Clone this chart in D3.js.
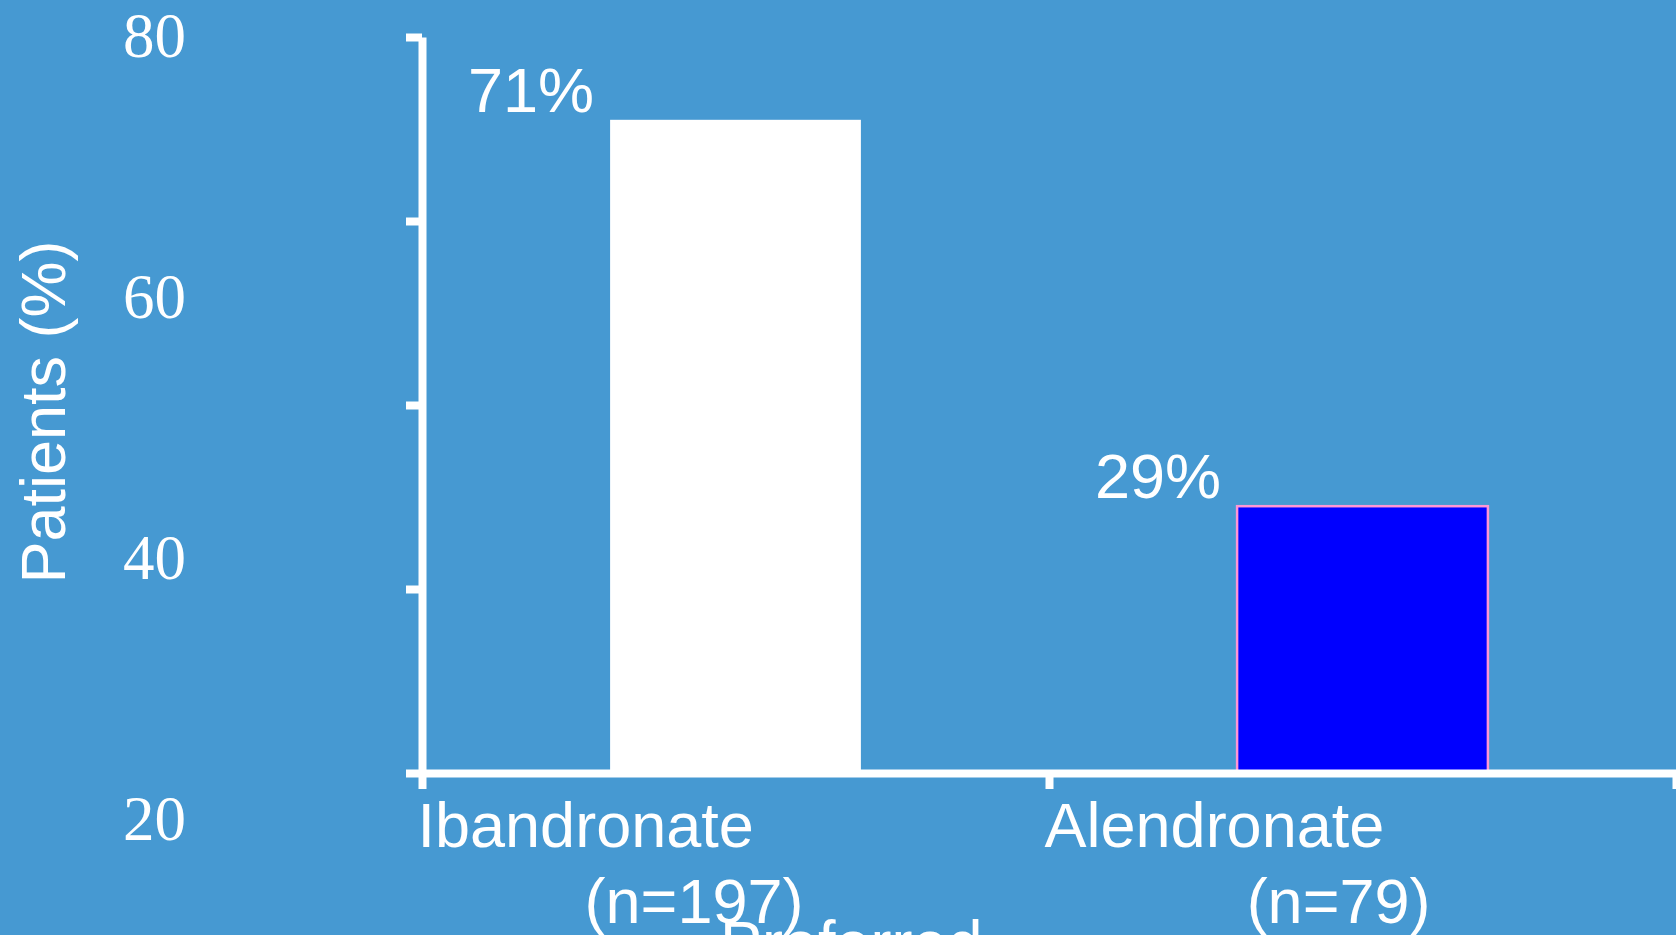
<!DOCTYPE html>
<html>
<head>
<meta charset="utf-8">
<script src="https://cdn.jsdelivr.net/npm/d3@7"></script>
<style>
  html, body { margin: 0; padding: 0; background: #4699D2; overflow: hidden; }
  svg { display: block; }
</style>
</head>
<body>
<svg id="chart" width="1676" height="935"></svg>
<script>
// Patient preference data
const categories = ["Ibandronate", "Alendronate"];
const sampleSizes = ["(n=197)", "(n=79)"];
const values = [71, 29];
const valueLabels = ["71%", "29%"];
const barFills = ["#FFFFFF", "#0000FF"];
const barStrokes = ["none", "#FF96D4"];
const axisTicks = [0, 20, 40, 60, 80];
const tickLabels = [80, 60, 40, 20];
const yTitle = "Patients (%)";
const xTitle = "Preferred";

const svg = d3.select("#chart");
const white = "#FFFFFF";
const sans = "'Liberation Sans', Arial, sans-serif";
const serif = "'Liberation Serif', 'Times New Roman', serif";

const axisX = 422, baseY = 773, topY = 37, rightX = 1676;

const y = d3.scaleLinear().domain([0, 80]).range([baseY, topY]);
const x = d3.scaleBand().domain(categories).range([axisX, rightX])
  .paddingInner(0.6).paddingOuter(0.3);
const xEdge = d3.scaleLinear().domain([0, categories.length]).range([axisX, rightX]);
// tick label column sits on its own scale, offset from the tick marks
const yLabel = d3.scaleLinear().domain([20, 80]).range([840, 57]);

// bars
svg.append("g").selectAll("rect")
  .data(values)
  .join("rect")
  .attr("x", (d, i) => x(categories[i]))
  .attr("y", d => y(d))
  .attr("width", x.bandwidth())
  .attr("height", d => y(0) - y(d))
  .attr("fill", (d, i) => barFills[i])
  .attr("stroke", (d, i) => barStrokes[i])
  .attr("stroke-width", 2.5);

// value labels
svg.append("g").selectAll("text")
  .data(values)
  .join("text")
  .attr("x", (d, i) => x(categories[i]) - 16)
  .attr("y", d => y(d) - 8)
  .attr("text-anchor", "end")
  .attr("font-family", sans)
  .attr("font-size", 63)
  .attr("fill", white)
  .text((d, i) => valueLabels[i]);

// y axis
const yAxis = svg.append("g")
  .attr("transform", `translate(${axisX},0)`)
  .call(d3.axisLeft(y).tickValues(axisTicks).tickSize(16).tickSizeOuter(0).tickFormat(""));
yAxis.selectAll("path, line").attr("stroke", white).attr("stroke-width", 8);

// x axis
const xAxis = svg.append("g")
  .attr("transform", `translate(0,${baseY})`)
  .call(d3.axisBottom(xEdge).tickValues(d3.range(categories.length + 1)).tickSize(16).tickSizeOuter(0).tickFormat(""));
xAxis.selectAll("path, line").attr("stroke", white).attr("stroke-width", 8);

// y tick labels
svg.append("g").selectAll("text")
  .data(tickLabels)
  .join("text")
  .attr("x", 186)
  .attr("y", d => yLabel(d))
  .attr("text-anchor", "end")
  .attr("font-family", serif)
  .attr("font-size", 63)
  .attr("fill", white)
  .text(d => d);

// category labels
const catG = svg.append("g").attr("font-family", sans).attr("font-size", 63).attr("fill", white);
catG.selectAll("text.cat")
  .data(categories)
  .join("text")
  .attr("class", "cat")
  .attr("x", d => x(d) + x.bandwidth() / 2 - 318)
  .attr("y", 847)
  .text(d => d);
catG.selectAll("text.n")
  .data(sampleSizes)
  .join("text")
  .attr("class", "n")
  .attr("x", (d, i) => x(categories[i]) + x.bandwidth() / 2 + 68)
  .attr("y", 923)
  .attr("text-anchor", "end")
  .text(d => d);

// axis titles
svg.append("text")
  .attr("transform", "translate(65,412) rotate(-90)")
  .attr("text-anchor", "middle")
  .attr("font-family", sans)
  .attr("font-size", 63)
  .attr("fill", white)
  .text(yTitle);

svg.append("text")
  .attr("x", 720)
  .attr("y", 965)
  .attr("font-family", sans)
  .attr("font-size", 63)
  .attr("fill", white)
  .text(xTitle);
</script>
</body>
</html>
